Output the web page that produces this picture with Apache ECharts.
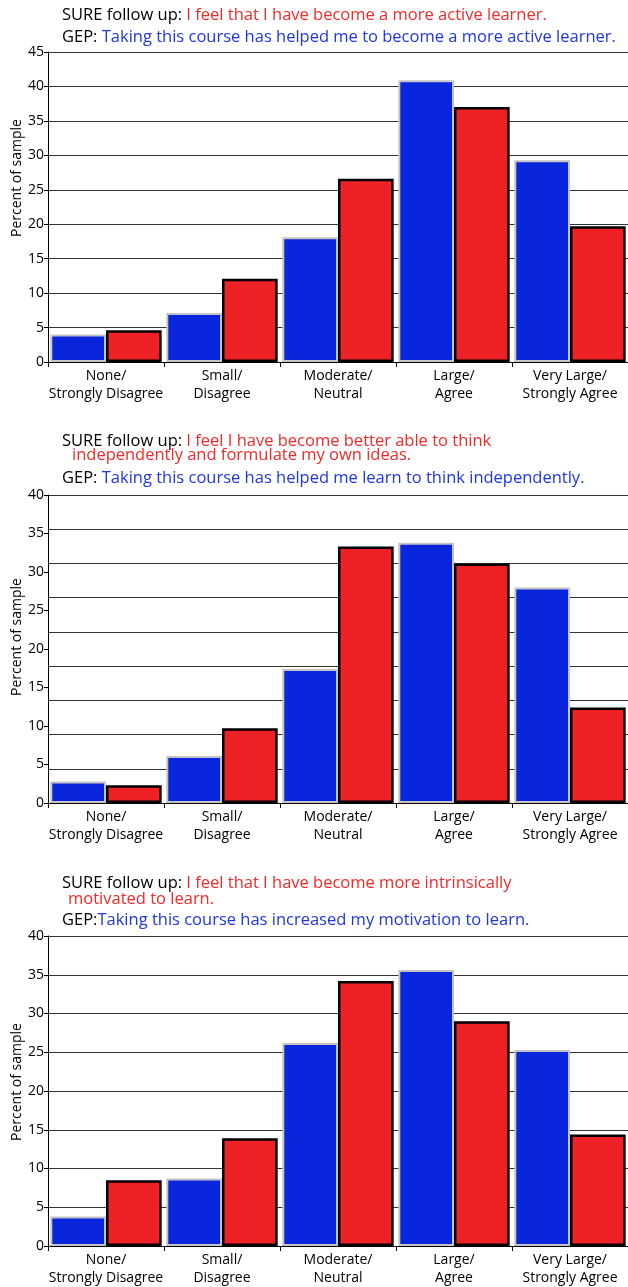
<!DOCTYPE html>
<html>
<head>
<meta charset="utf-8">
<script src="https://cdn.jsdelivr.net/npm/echarts@6/dist/echarts.min.js"></script>
<style>
  html, body { margin: 0; padding: 0; background: #fff; }
  #main { width: 628px; height: 1287px; }
</style>
</head>
<body>
<div id="main"></div>
<script>
// 数据
const categories = ['None/\nStrongly Disagree', 'Small/\nDisagree', 'Moderate/\nNeutral', 'Large/\nAgree', 'Very Large/\nStrongly Agree']
const gep1 = [4.0, 7.1, 18.1, 40.9, 29.3]
const sure1 = [4.6, 12.1, 26.6, 37.0, 19.7]
const gep2 = [2.8, 6.1, 17.4, 33.8, 28.0]
const sure2 = [2.3, 9.7, 33.3, 31.1, 12.4]
const gep3 = [3.8, 8.7, 26.2, 35.6, 25.3]
const sure3 = [8.5, 13.9, 34.2, 29.0, 14.4]
const yMax = [45, 40, 40]

const FONT = 'Open Sans'
const BLUE = '#0a26dc'
const RED = '#ee2226'
const gridTops = [52, 495, 936]
const gridHeights = [310, 308, 311]
const yNameCenters = [178, 637, 1082] // 纵轴标题位置

function titleItem(text, left, top) {
  return {
    text: text,
    left: left,
    top: top,
    padding: 0,
    textStyle: {
      fontFamily: FONT,
      fontSize: 16.5,
      fontWeight: 'normal',
      rich: {
        k: { color: '#000', fontFamily: FONT, fontSize: 16.5 },
        r: { color: '#f02a2a', fontFamily: FONT, fontSize: 16.5 },
        b: { color: '#1f36e0', fontFamily: FONT, fontSize: 16.5 },
      },
    },
  }
}

const grids = gridTops.map((t, i) => ({ left: 48, top: t, width: 580, height: gridHeights[i] }))

const xAxes = grids.map((g, i) => ({
  type: 'category',
  gridIndex: i,
  data: categories,
  axisLine: { lineStyle: { color: '#000', width: 1 } },
  axisTick: { show: true, length: 5, lineStyle: { color: '#000' } },
  axisLabel: { color: '#000', fontFamily: FONT, fontSize: 14, lineHeight: 18, margin: 5, interval: 0 },
}))

function yAxisItem(i) {
  return {
    type: 'value',
    gridIndex: i,
    min: 0,
    max: yMax[i],
    interval: 5,
    axisLine: { show: true, lineStyle: { color: '#000', width: 1 } },
    axisTick: { show: true, length: 4, lineStyle: { color: '#000' } },
    axisLabel: { color: '#000', fontFamily: FONT, fontSize: 14, margin: 4 },
    splitLine: { show: i !== 1, lineStyle: { color: '#333', width: 1.2 } },
  }
}

const yAxes = [yAxisItem(0), yAxisItem(1), yAxisItem(2)]
// 第二张图的网格线与刻度不对齐
yAxes.push({
  type: 'value',
  gridIndex: 1,
  min: 0,
  max: 9,
  interval: 1,
  axisLine: { show: false },
  axisTick: { show: false },
  axisLabel: { show: false },
  splitLine: { show: true, lineStyle: { color: '#333', width: 1.2 } },
})

function barPair(gep, sure, i) {
  return [
    {
      type: 'bar',
      xAxisIndex: i,
      yAxisIndex: i,
      data: gep,
      barGap: '0%',
      barCategoryGap: '4%',
      itemStyle: { color: BLUE, borderColor: '#c4c4c4', borderWidth: 2 },
      emphasis: { disabled: true },
    },
    {
      type: 'bar',
      xAxisIndex: i,
      yAxisIndex: i,
      data: sure,
      barGap: '0%',
      barCategoryGap: '4%',
      itemStyle: { color: RED, borderColor: '#000', borderWidth: 2.5 },
      emphasis: { disabled: true },
    },
  ]
}

const option = {
  animation: false,
  title: [
    titleItem('{k|SURE follow up: }{r|I feel that I have become a more active learner.}', 62, 7),
    titleItem('{k|GEP: }{b|Taking this course has helped me to become a more active learner.}', 62, 29),
    titleItem('{k|SURE follow up: }{r|I feel I have become better able to think}', 62, 433),
    titleItem('{r|independently and formulate my own ideas.}', 72, 447),
    titleItem('{k|GEP: }{b|Taking this course has helped me learn to think independently.}', 62, 470),
    titleItem('{k|SURE follow up: }{r|I feel that I have become more intrinsically}', 62, 875),
    titleItem('{r|motivated to learn.}', 68, 891),
    titleItem('{k|GEP:}{b|Taking this course has increased my motivation to learn.}', 62, 912),
  ],
  graphic: yNameCenters.map((c) => ({
    type: 'text',
    x: 17,
    y: c,
    rotation: Math.PI / 2,
    style: {
      text: 'Percent of sample',
      fill: '#000',
      font: '14px "Open Sans"',
      textAlign: 'center',
      textVerticalAlign: 'middle',
    },
  })),
  grid: grids,
  xAxis: xAxes,
  yAxis: yAxes,
  series: [].concat(barPair(gep1, sure1, 0), barPair(gep2, sure2, 1), barPair(gep3, sure3, 2)),
}

const myChart = echarts.init(document.getElementById('main'), null, { renderer: 'canvas' })
myChart.setOption(option)
</script>
</body>
</html>
